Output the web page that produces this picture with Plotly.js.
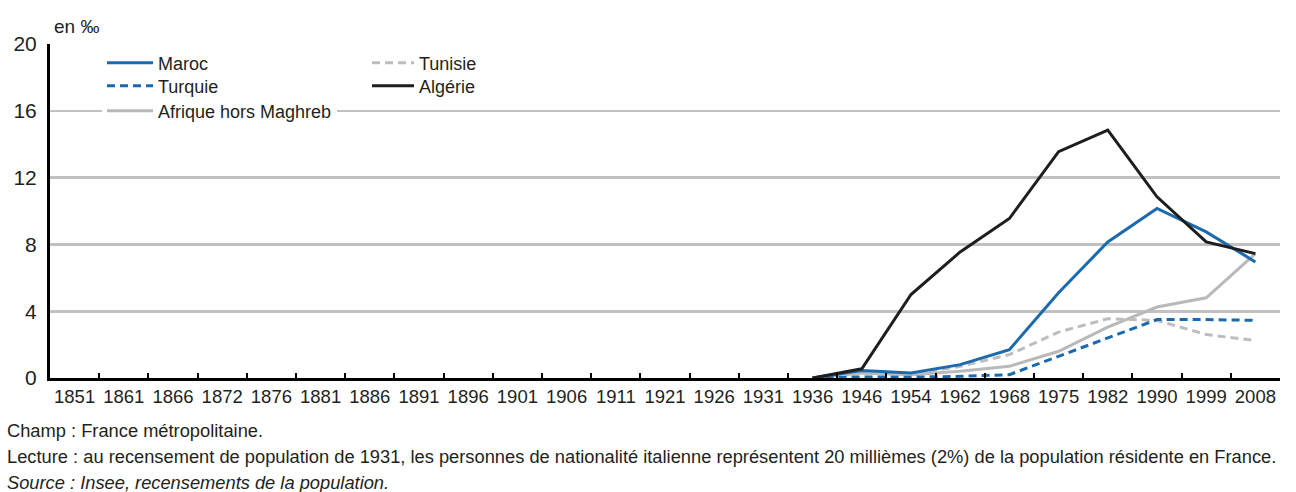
<!DOCTYPE html>
<html><head><meta charset="utf-8">
<script src="https://cdn.plot.ly/plotly-3.0.1.min.js"></script>
<style>body{margin:0;background:#fff}#chart{width:1296px;height:492px}</style>
</head><body><div id="chart"></div>
<script>
const years = ['1851','1861','1866','1872','1876','1881','1886','1891','1896','1901','1906','1911','1921','1926','1931','1936','1946','1954','1962','1968','1975','1982','1990','1999','2008'];
const N = null;
const maroc   = [N,N,N,N,N,N,N,N,N,N,N,N,N,N,N, 0, 0.45, 0.3, 0.8, 1.7, 5.1, 8.15, 10.15, 8.75, 6.95];
const turquie = [N,N,N,N,N,N,N,N,N,N,N,N,N,N,N, 0, 0.05, 0.05, 0.1, 0.2, 1.3, 2.4, 3.5, 3.5, 3.45];
const afrique = [N,N,N,N,N,N,N,N,N,N,N,N,N,N,N, 0, 0.3, 0.2, 0.4, 0.7, 1.6, 3.05, 4.25, 4.8, 7.45];
const tunisie = [N,N,N,N,N,N,N,N,N,N,N,N,N,N,N, 0, 0.2, 0.2, 0.7, 1.4, 2.75, 3.55, 3.45, 2.6, 2.25];
const algerie = [N,N,N,N,N,N,N,N,N,N,N,N,N,N,N, 0, 0.55, 5.0, 7.55, 9.55, 13.55, 14.85, 10.85, 8.15, 7.45];
const yTicks = [0, 4, 8, 12, 16, 20];

const FONT = '"Liberation Sans", Arial, sans-serif';
const TXT = '#231f20';
const BLUE = '#1c6aae', GRAY = '#b9b9bc', GRAYD = '#bdbdbd', BLACK = '#1e1e1e';

const mk = (name, y, color, dash, leg) => ({
  type: 'scatter', mode: 'lines', name, x: years, y,
  line: {color, width: 3, dash}, legend: leg, showlegend: true,
  connectgaps: false, hoverinfo: 'x+y+name'
});
const data = [
  mk('Afrique hors Maghreb', afrique, GRAY, 'solid', 'legend3'),
  mk('Tunisie', tunisie, GRAYD, '8px,5px', 'legend4'),
  mk('Turquie', turquie, BLUE, '8px,5px', 'legend2'),
  mk('Maroc', maroc, BLUE, 'solid', 'legend'),
  mk('Algérie', algerie, BLACK, 'solid', 'legend5')
];
const legBase = (x, y, bg, iw) => ({x, y, xanchor: 'left', yanchor: 'middle', bgcolor: bg, borderwidth: 0,
  font: {family: FONT, size: 18, color: TXT}, itemwidth: iw, tracegroupgap: 0, orientation: 'v'});
const L1x = (102 - 50) / 1230, L2x = (367 - 50) / 1230;
const py = px => (378 - px) / 334;
const FN = 18.3;
const layout = {
  width: 1296, height: 492,
  margin: {l: 50, r: 16, t: 44, b: 114},
  paper_bgcolor: '#fff', plot_bgcolor: '#fff',
  font: {family: FONT, color: TXT},
  xaxis: {type: 'category', categoryorder: 'array', categoryarray: years, range: [-0.5, years.length - 0.5],
    showline: true, linecolor: '#000', linewidth: 3, showgrid: false, zeroline: false,
    ticks: 'inside', tickson: 'boundaries', ticklen: 5, tickwidth: 2, tickcolor: '#000',
    tickfont: {family: FONT, size: 18.5, color: TXT}, tickangle: 0, fixedrange: true},
  yaxis: {range: [0, 20], tickvals: yTicks, ticktext: yTicks.map(String),
    showline: true, linecolor: '#000', linewidth: 3, showgrid: true, gridcolor: '#c1c1c3', gridwidth: 2.6,
    zeroline: false, ticks: '', ticklabelstandoff: 6,
    tickfont: {family: FONT, size: 21, color: TXT}, fixedrange: true},
  legend: legBase(L1x, py(63), 'rgba(0,0,0,0)', 46),
  legend2: legBase(L1x, py(86), 'rgba(0,0,0,0)', 46),
  legend3: legBase(L1x, py(111), '#fff', 46),
  legend4: legBase(L2x, py(63), 'rgba(0,0,0,0)', 42),
  legend5: legBase(L2x, py(86), 'rgba(0,0,0,0)', 42),
  annotations: [
    {text: 'en ‰', xref: 'paper', yref: 'paper', x: 0, y: 1, xshift: 2, yshift: 5, xanchor: 'left', yanchor: 'bottom',
     showarrow: false, font: {family: FONT, size: 19, color: TXT}},
    {text: 'Champ : France métropolitaine.', xref: 'paper', yref: 'paper', x: -45/1230, y: py(430), xanchor: 'left', yanchor: 'middle',
     showarrow: false, font: {family: FONT, size: FN, color: TXT}},
    {text: 'Lecture : au recensement de population de 1931, les personnes de nationalité italienne représentent 20 millièmes (2%) de la population résidente en France.',
     xref: 'paper', yref: 'paper', x: -45/1230, y: py(456), xanchor: 'left', yanchor: 'middle',
     showarrow: false, font: {family: FONT, size: FN, color: TXT}},
    {text: '<i>Source : Insee, recensements de la population.</i>', xref: 'paper', yref: 'paper', x: -45/1230, y: py(482), xanchor: 'left', yanchor: 'middle',
     showarrow: false, font: {family: FONT, size: FN, color: TXT}}
  ]
};
Plotly.newPlot('chart', data, layout, {displayModeBar: false, staticPlot: true});
</script></body></html>
